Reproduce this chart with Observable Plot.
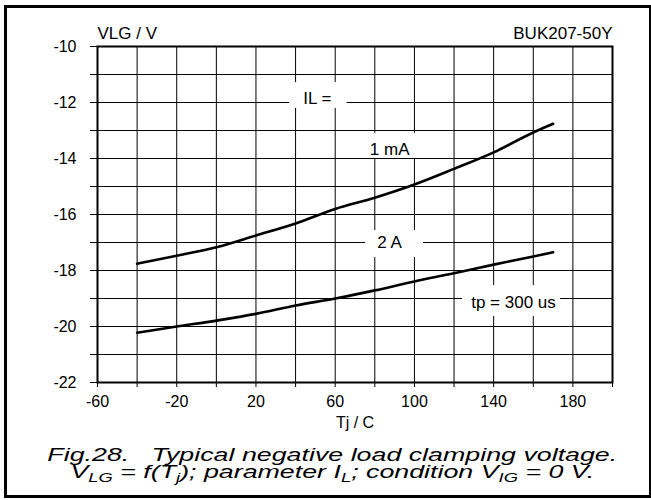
<!DOCTYPE html>
<html>
<head>
<meta charset="utf-8">
<script src="https://cdn.jsdelivr.net/npm/d3@7"></script>
<script src="https://cdn.jsdelivr.net/npm/@observablehq/plot@0.6"></script>
<style>
  html, body { margin: 0; padding: 0; background: #fff; }
  #wrap { position: relative; width: 651px; height: 500px; overflow: hidden; font-family: "Liberation Sans", Arial, sans-serif; }
  #border { position: absolute; left: 4px; top: 5px; width: 642px; height: 487px; border: 3px solid #000; pointer-events: none; }
  .cap { position: absolute; left: 0; width: 665px; text-align: center; font-style: italic; font-size: 19px; line-height: 17px; height: 17px; white-space: pre; color: #000; transform: scaleX(1.41); transform-origin: 333px 0; }
  .cap sub { font-size: 13px; vertical-align: -4px; line-height: 0; }
</style>
</head>
<body>
<div id="wrap">
  <div id="chart"></div>
  <div class="cap" style="top:446px">Fig.28.   Typical negative load clamping voltage.</div>
  <div class="cap" style="top:463px">V<sub>LG</sub> = f(T<sub>j</sub>); parameter I<sub>L</sub>; condition V<sub>IG</sub> = 0 V.</div>
  <div id="border"></div>
</div>
<script>
// Temperatures (Tj / C)
const temps = [-40, -20, 0, 20, 40, 60, 80, 100, 120, 140, 160, 170];
// VLG / V for IL = 1 mA
const v1mA = [-17.76, -17.47, -17.17, -16.75, -16.32, -15.8, -15.4, -14.93, -14.37, -13.78, -13.07, -12.76];
// VLG / V for IL = 2 A
const v2A = [-20.22, -20.0, -19.79, -19.55, -19.25, -19.0, -18.71, -18.39, -18.1, -17.79, -17.5, -17.35];

// Axis tick labels
const xTickLabels = [-60, -20, 20, 60, 100, 140, 180];
const yTickLabels = [-22, -20, -18, -16, -14, -12, -10];

// In-chart annotation labels
const labelText = ["IL =", "1 mA", "2 A", "tp = 300 us"];
const labelX = [51, 87.5, 87.5, 150];
const labelY = [-11.86, -13.68, -17.0, -19.14];
const boxX1 = [37, 72.8, 75.4, 124.3];
const boxX2 = [66, 104.6, 104.6, 173.8];
const boxY1 = [-11.29, -13.1, -16.57, -18.54];
const boxY2 = [-12.21, -14.0, -17.54, -19.64];

const rows = [];
temps.forEach((t, i) => {
  rows.push({t, v: v1mA[i], s: "1 mA"});
  rows.push({t, v: v2A[i], s: "2 A"});
});
const labels = labelText.map((text, i) => ({text, x: labelX[i], y: labelY[i], x1: boxX1[i], x2: boxX2[i], y1: boxY1[i], y2: boxY2[i]}));

const xGrid = d3.range(-60, 201, 20);
const yGrid = d3.range(-22, -9, 1);

const chart = Plot.plot({
  width: 651,
  height: 440,
  marginTop: 46,
  marginBottom: 58,
  marginLeft: 97,
  marginRight: 39,
  style: {fontFamily: "'Liberation Sans', Arial, sans-serif", fontSize: "16px", color: "#000", background: "transparent"},
  x: {domain: [-60, 200]},
  y: {domain: [-22, -10]},
  marks: [
    Plot.gridX(xGrid, {stroke: "#000", strokeOpacity: 1, strokeWidth: 1}),
    Plot.gridY(yGrid, {stroke: "#000", strokeOpacity: 1, strokeWidth: 1}),
    Plot.rect(labels, {x1: "x1", x2: "x2", y1: "y1", y2: "y2", fill: "#fff"}),
    Plot.text(labels, {x: "x", y: "y", text: "text", fontSize: 17, fill: "#000"}),
    Plot.axisX(xGrid, {tickSize: 5, tickPadding: 8, stroke: "#000", fontSize: 16, tickFormat: d => xTickLabels.includes(d) ? String(d) : "", label: null}),
    Plot.axisY(yGrid, {tickSize: 7, tickPadding: 14, stroke: "#000", fontSize: 16, tickFormat: d => yTickLabels.includes(d) ? String(d) : "", label: null}),
    Plot.frame({stroke: "#000", strokeWidth: 2}),
    Plot.line(rows, {x: "t", y: "v", z: "s", stroke: "#000", strokeWidth: 2.6, curve: "monotone-x"}),
    Plot.text(["VLG / V"], {frameAnchor: "top-left", dy: -13, lineAnchor: "middle", textAnchor: "start", fontSize: 17}),
    Plot.text(["BUK207-50Y"], {frameAnchor: "top-right", dy: -13, lineAnchor: "middle", textAnchor: "end", fontSize: 17}),
    Plot.text(["Tj / C"], {frameAnchor: "bottom", dy: 40, lineAnchor: "middle", fontSize: 16})
  ]
});
document.getElementById("chart").appendChild(chart);
</script>
</body>
</html>
